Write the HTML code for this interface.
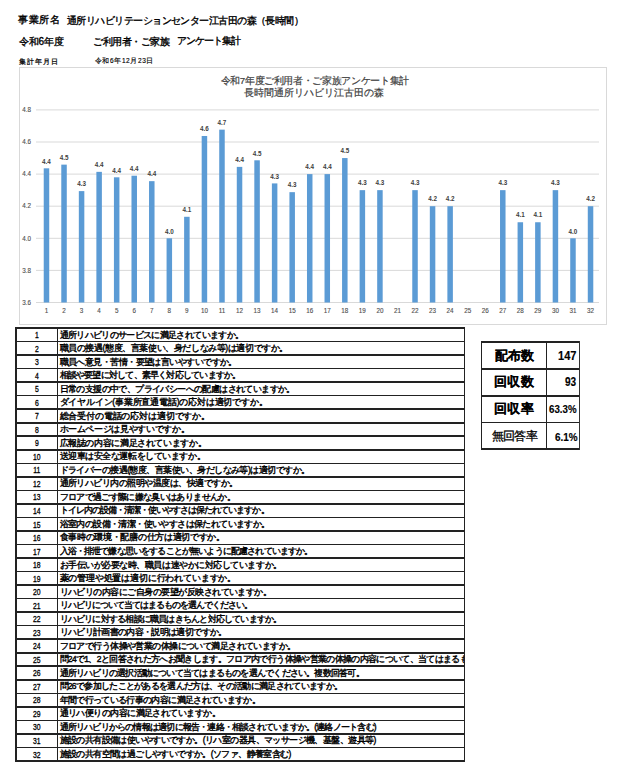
<!DOCTYPE html>
<html lang="ja"><head><meta charset="utf-8">
<style>
html,body{margin:0;padding:0;background:#fff;}
body{width:640px;height:777px;position:relative;overflow:hidden;font-family:"Liberation Sans",sans-serif;color:#000;}
.t{position:absolute;white-space:nowrap;line-height:1;}
svg{position:absolute;left:0;top:0;}
.ax{font-size:6.3px;fill:#505050;stroke:#505050;stroke-width:0.12px;font-family:"Liberation Sans",sans-serif;}
.dl{font-size:6.3px;fill:#404040;font-weight:bold;font-family:"Liberation Sans",sans-serif;}
.tt{font-size:10px;fill:#404040;stroke:#404040;stroke-width:0.2px;font-family:"Liberation Sans",sans-serif;}
#clip{position:absolute;left:0;top:0;width:463.5px;height:777px;overflow:hidden;}
.q{position:absolute;left:59.5px;font-size:8.5px;line-height:1;white-space:nowrap;-webkit-text-stroke:0.4px #000;font-weight:normal;}
.n{position:absolute;left:16px;width:41.5px;text-align:center;font-size:8.3px;line-height:1;-webkit-text-stroke:0.3px #000;transform:scaleX(0.82);transform-origin:21.4px 0;}
.hl{position:absolute;left:16px;width:449px;height:1.6px;background:#222;}
.vl{position:absolute;width:1.6px;background:#222;}
</style></head><body>
<div class="t" id="h1a" style="left:18.00px;top:15.45px;font-size:10.00px;letter-spacing:0.600px;font-weight:normal;-webkit-text-stroke:0.35px #000">事業所名</div><div class="t" id="h1b" style="left:67.00px;top:15.90px;font-size:10.00px;letter-spacing:-0.550px;font-weight:normal;-webkit-text-stroke:0.35px #000">通所リハビリテーションセンター江古田の森（長時間）</div><div class="t" id="h2a" style="left:18.90px;top:36.90px;font-size:10.00px;letter-spacing:-0.225px;font-weight:normal;-webkit-text-stroke:0.35px #000">令和6年度</div><div class="t" id="h2b" style="left:93.10px;top:36.90px;font-size:10.00px;letter-spacing:-0.500px;font-weight:normal;-webkit-text-stroke:0.35px #000">ご利用者・ご家族</div><div class="t" id="h2c" style="left:176.60px;top:36.45px;font-size:10.00px;letter-spacing:-0.950px;font-weight:normal;-webkit-text-stroke:0.35px #000">アンケート集計</div><div class="t" id="h3a" style="left:18.90px;top:57.90px;font-size:7.00px;letter-spacing:1.125px;font-weight:normal;-webkit-text-stroke:0.22px #000">集計年月日</div><div class="t" id="h3b" style="left:94.90px;top:57.80px;font-size:6.50px;letter-spacing:0.600px;-webkit-text-stroke:0.15px #000">令和6年12月23日</div>
<svg width="640" height="777" viewBox="0 0 640 777"><rect x="19.5" y="67.5" width="587" height="257" fill="#fff" stroke="#d9d9d9" stroke-width="1"/><line x1="36" x2="599" y1="302.50" y2="302.50" stroke="#d9d9d9" stroke-width="1"/><text x="31" y="304.70" text-anchor="end" class="ax">3.6</text><line x1="36" x2="599" y1="270.40" y2="270.40" stroke="#d9d9d9" stroke-width="1"/><text x="31" y="272.60" text-anchor="end" class="ax">3.8</text><line x1="36" x2="599" y1="238.30" y2="238.30" stroke="#d9d9d9" stroke-width="1"/><text x="31" y="240.50" text-anchor="end" class="ax">4.0</text><line x1="36" x2="599" y1="206.20" y2="206.20" stroke="#d9d9d9" stroke-width="1"/><text x="31" y="208.40" text-anchor="end" class="ax">4.2</text><line x1="36" x2="599" y1="174.10" y2="174.10" stroke="#d9d9d9" stroke-width="1"/><text x="31" y="176.30" text-anchor="end" class="ax">4.4</text><line x1="36" x2="599" y1="142.00" y2="142.00" stroke="#d9d9d9" stroke-width="1"/><text x="31" y="144.20" text-anchor="end" class="ax">4.6</text><line x1="36" x2="599" y1="109.90" y2="109.90" stroke="#d9d9d9" stroke-width="1"/><text x="31" y="112.10" text-anchor="end" class="ax">4.8</text><text x="46.48" y="313.3" text-anchor="middle" class="ax">1</text><rect x="43.73" y="168.32" width="5.5" height="134.18" fill="#5b9bd5"/><text x="46.48" y="163.52" text-anchor="middle" class="dl">4.4</text><text x="64.03" y="313.3" text-anchor="middle" class="ax">2</text><rect x="61.28" y="164.63" width="5.5" height="137.87" fill="#5b9bd5"/><text x="64.03" y="159.83" text-anchor="middle" class="dl">4.5</text><text x="81.58" y="313.3" text-anchor="middle" class="ax">3</text><rect x="78.83" y="191.11" width="5.5" height="111.39" fill="#5b9bd5"/><text x="81.58" y="186.31" text-anchor="middle" class="dl">4.3</text><text x="99.12" y="313.3" text-anchor="middle" class="ax">4</text><rect x="96.38" y="171.85" width="5.5" height="130.65" fill="#5b9bd5"/><text x="99.12" y="167.05" text-anchor="middle" class="dl">4.4</text><text x="116.68" y="313.3" text-anchor="middle" class="ax">5</text><rect x="113.93" y="177.31" width="5.5" height="125.19" fill="#5b9bd5"/><text x="116.68" y="172.51" text-anchor="middle" class="dl">4.4</text><text x="134.23" y="313.3" text-anchor="middle" class="ax">6</text><rect x="131.48" y="175.71" width="5.5" height="126.79" fill="#5b9bd5"/><text x="134.23" y="170.91" text-anchor="middle" class="dl">4.4</text><text x="151.78" y="313.3" text-anchor="middle" class="ax">7</text><rect x="149.03" y="181.16" width="5.5" height="121.34" fill="#5b9bd5"/><text x="151.78" y="176.36" text-anchor="middle" class="dl">4.4</text><text x="169.32" y="313.3" text-anchor="middle" class="ax">8</text><rect x="166.57" y="238.30" width="5.5" height="64.20" fill="#5b9bd5"/><text x="169.32" y="233.50" text-anchor="middle" class="dl">4.0</text><text x="186.88" y="313.3" text-anchor="middle" class="ax">9</text><rect x="184.12" y="216.79" width="5.5" height="85.71" fill="#5b9bd5"/><text x="186.88" y="211.99" text-anchor="middle" class="dl">4.1</text><text x="204.43" y="313.3" text-anchor="middle" class="ax">10</text><rect x="201.68" y="135.98" width="5.5" height="166.52" fill="#5b9bd5"/><text x="204.43" y="131.18" text-anchor="middle" class="dl">4.6</text><text x="221.98" y="313.3" text-anchor="middle" class="ax">11</text><rect x="219.23" y="129.64" width="5.5" height="172.86" fill="#5b9bd5"/><text x="221.98" y="124.84" text-anchor="middle" class="dl">4.7</text><text x="239.53" y="313.3" text-anchor="middle" class="ax">12</text><rect x="236.78" y="166.88" width="5.5" height="135.62" fill="#5b9bd5"/><text x="239.53" y="162.08" text-anchor="middle" class="dl">4.4</text><text x="257.07" y="313.3" text-anchor="middle" class="ax">13</text><rect x="254.32" y="160.30" width="5.5" height="142.20" fill="#5b9bd5"/><text x="257.07" y="155.50" text-anchor="middle" class="dl">4.5</text><text x="274.62" y="313.3" text-anchor="middle" class="ax">14</text><rect x="271.88" y="183.41" width="5.5" height="119.09" fill="#5b9bd5"/><text x="274.62" y="178.61" text-anchor="middle" class="dl">4.3</text><text x="292.18" y="313.3" text-anchor="middle" class="ax">15</text><rect x="289.43" y="192.16" width="5.5" height="110.34" fill="#5b9bd5"/><text x="292.18" y="187.36" text-anchor="middle" class="dl">4.3</text><text x="309.73" y="313.3" text-anchor="middle" class="ax">16</text><rect x="306.98" y="174.10" width="5.5" height="128.40" fill="#5b9bd5"/><text x="309.73" y="169.30" text-anchor="middle" class="dl">4.4</text><text x="327.27" y="313.3" text-anchor="middle" class="ax">17</text><rect x="324.52" y="174.10" width="5.5" height="128.40" fill="#5b9bd5"/><text x="327.27" y="169.30" text-anchor="middle" class="dl">4.4</text><text x="344.82" y="313.3" text-anchor="middle" class="ax">18</text><rect x="342.07" y="158.05" width="5.5" height="144.45" fill="#5b9bd5"/><text x="344.82" y="153.25" text-anchor="middle" class="dl">4.5</text><text x="362.38" y="313.3" text-anchor="middle" class="ax">19</text><rect x="359.62" y="190.15" width="5.5" height="112.35" fill="#5b9bd5"/><text x="362.38" y="185.35" text-anchor="middle" class="dl">4.3</text><text x="379.93" y="313.3" text-anchor="middle" class="ax">20</text><rect x="377.18" y="190.15" width="5.5" height="112.35" fill="#5b9bd5"/><text x="379.93" y="185.35" text-anchor="middle" class="dl">4.3</text><text x="397.48" y="313.3" text-anchor="middle" class="ax">21</text><text x="415.02" y="313.3" text-anchor="middle" class="ax">22</text><rect x="412.27" y="190.15" width="5.5" height="112.35" fill="#5b9bd5"/><text x="415.02" y="185.35" text-anchor="middle" class="dl">4.3</text><text x="432.57" y="313.3" text-anchor="middle" class="ax">23</text><rect x="429.82" y="206.20" width="5.5" height="96.30" fill="#5b9bd5"/><text x="432.57" y="201.40" text-anchor="middle" class="dl">4.2</text><text x="450.12" y="313.3" text-anchor="middle" class="ax">24</text><rect x="447.38" y="206.20" width="5.5" height="96.30" fill="#5b9bd5"/><text x="450.12" y="201.40" text-anchor="middle" class="dl">4.2</text><text x="467.68" y="313.3" text-anchor="middle" class="ax">25</text><text x="485.23" y="313.3" text-anchor="middle" class="ax">26</text><text x="502.78" y="313.3" text-anchor="middle" class="ax">27</text><rect x="500.03" y="190.15" width="5.5" height="112.35" fill="#5b9bd5"/><text x="502.78" y="185.35" text-anchor="middle" class="dl">4.3</text><text x="520.33" y="313.3" text-anchor="middle" class="ax">28</text><rect x="517.58" y="222.25" width="5.5" height="80.25" fill="#5b9bd5"/><text x="520.33" y="217.45" text-anchor="middle" class="dl">4.1</text><text x="537.88" y="313.3" text-anchor="middle" class="ax">29</text><rect x="535.12" y="222.25" width="5.5" height="80.25" fill="#5b9bd5"/><text x="537.88" y="217.45" text-anchor="middle" class="dl">4.1</text><text x="555.43" y="313.3" text-anchor="middle" class="ax">30</text><rect x="552.68" y="190.15" width="5.5" height="112.35" fill="#5b9bd5"/><text x="555.43" y="185.35" text-anchor="middle" class="dl">4.3</text><text x="572.98" y="313.3" text-anchor="middle" class="ax">31</text><rect x="570.23" y="238.30" width="5.5" height="64.20" fill="#5b9bd5"/><text x="572.98" y="233.50" text-anchor="middle" class="dl">4.0</text><text x="590.53" y="313.3" text-anchor="middle" class="ax">32</text><rect x="587.78" y="206.20" width="5.5" height="96.30" fill="#5b9bd5"/><text x="590.53" y="201.40" text-anchor="middle" class="dl">4.2</text><text x="314.7" y="83.5" text-anchor="middle" class="tt" style="font-size:9.7px;letter-spacing:-0.36px">令和7年度ご利用者・ご家族アンケート集計</text><text x="313.5" y="96.2" text-anchor="middle" class="tt" style="font-size:9.85px">長時間通所リハビリ江古田の森</text></svg>
<div id="clip"><div class="q" id="r1" style="top:330.50px;letter-spacing:-0.643px">通所リハビリのサービスに満足されていますか。</div><div class="n" style="top:331.10px">1</div><div class="q" id="r2" style="top:344.03px;letter-spacing:-0.400px">職員の接遇(態度、言葉使い、身だしなみ等)は適切ですか。</div><div class="n" style="top:344.63px">2</div><div class="q" id="r3" style="top:357.56px;letter-spacing:-0.555px">職員へ意見・苦情・要望は言いやすいですか。</div><div class="n" style="top:358.16px">3</div><div class="q" id="r4" style="top:371.09px;letter-spacing:-0.771px">相談や要望に対して、素早く対応していますか。</div><div class="n" style="top:371.69px">4</div><div class="q" id="r5" style="top:384.62px;letter-spacing:-0.600px">日常の支援の中で、プライバシーへの配慮はされていますか。</div><div class="n" style="top:385.22px">5</div><div class="q" id="r6" style="top:398.15px;letter-spacing:-0.188px">ダイヤルイン(事業所直通電話)の応対は適切ですか。</div><div class="n" style="top:398.75px">6</div><div class="q" id="r7" style="top:411.68px;letter-spacing:-0.150px">総合受付の電話の応対は適切ですか。</div><div class="n" style="top:412.28px">7</div><div class="q" id="r8" style="top:425.21px;letter-spacing:-0.343px">ホームページは見やすいですか。</div><div class="n" style="top:425.81px">8</div><div class="q" id="r9" style="top:438.74px;letter-spacing:-0.375px">広報誌の内容に満足されていますか。</div><div class="n" style="top:439.34px">9</div><div class="q" id="r10" style="top:452.27px;letter-spacing:-0.431px">送迎車は安全な運転をしていますか。</div><div class="n" style="top:452.87px">10</div><div class="q" id="r11" style="top:465.80px;letter-spacing:-0.540px">ドライバーの接遇(態度、言葉使い、身だしなみ等)は適切ですか。</div><div class="n" style="top:466.40px">11</div><div class="q" id="r12" style="top:479.33px;letter-spacing:-0.510px">通所リハビリ内の照明や温度は、快適ですか。</div><div class="n" style="top:479.93px">12</div><div class="q" id="r13" style="top:492.86px;letter-spacing:-0.645px">フロアで過ごす際に嫌な臭いはありませんか。</div><div class="n" style="top:493.46px">13</div><div class="q" id="r14" style="top:506.39px;letter-spacing:-0.960px">トイレ内の設備・清潔・使いやすさは保たれていますか。</div><div class="n" style="top:506.99px">14</div><div class="q" id="r15" style="top:519.92px;letter-spacing:-0.600px">浴室内の設備・清潔・使いやすさは保たれていますか。</div><div class="n" style="top:520.52px">15</div><div class="q" id="r16" style="top:533.45px;letter-spacing:-0.300px">食事時の環境・配膳の仕方は適切ですか。</div><div class="n" style="top:534.05px">16</div><div class="q" id="r17" style="top:546.98px;letter-spacing:-0.840px">入浴・排泄で嫌な思いをすることが無いように配慮されていますか。</div><div class="n" style="top:547.58px">17</div><div class="q" id="r18" style="top:560.51px;letter-spacing:-0.456px">お手伝いが必要な時、職員は速やかに対応していますか。</div><div class="n" style="top:561.11px">18</div><div class="q" id="r19" style="top:574.04px;letter-spacing:-0.174px">薬の管理や処置は適切に行われていますか。</div><div class="n" style="top:574.64px">19</div><div class="q" id="r20" style="top:587.57px;letter-spacing:-0.525px">リハビリの内容にご自身の要望が反映されていますか。</div><div class="n" style="top:588.17px">20</div><div class="q" id="r21" style="top:601.10px;letter-spacing:-0.991px">リハビリについて当てはまるものを選んでください。</div><div class="n" style="top:601.70px">21</div><div class="q" id="r22" style="top:614.63px;letter-spacing:-0.773px">リハビリに対する相談に職員はきちんと対応していますか。</div><div class="n" style="top:615.23px">22</div><div class="q" id="r23" style="top:628.16px;letter-spacing:-0.647px">リハビリ計画書の内容・説明は適切ですか。</div><div class="n" style="top:628.76px">23</div><div class="q" id="r24" style="top:641.69px;letter-spacing:-0.567px">フロアで行う体操や営業の体操について満足されていますか。</div><div class="n" style="top:642.29px">24</div><div class="q" id="r25" style="top:655.22px;letter-spacing:-0.652px">問24で1、2と回答された方へお聞きします。フロア内で行う体操や営業の体操の内容について、当てはまるものを選んでください。</div><div class="n" style="top:655.82px">25</div><div class="q" id="r26" style="top:668.75px;letter-spacing:-0.775px">通所リハビリの選択活動について当てはまるものを選んでください。複数回答可。</div><div class="n" style="top:669.35px">26</div><div class="q" id="r27" style="top:682.28px;letter-spacing:-0.679px">問26で参加したことがあるを選んだ方は、その活動に満足されていますか。</div><div class="n" style="top:682.88px">27</div><div class="q" id="r28" style="top:695.81px;letter-spacing:-0.639px">年間で行っている行事の内容に満足されていますか。</div><div class="n" style="top:696.41px">28</div><div class="q" id="r29" style="top:709.34px;letter-spacing:-0.550px">通リハ便りの内容に満足されていますか。</div><div class="n" style="top:709.94px">29</div><div class="q" id="r30" style="top:722.87px;letter-spacing:-0.785px">通所リハビリからの情報は適切に報告・連絡・相談されていますか。(連絡ノート含む)</div><div class="n" style="top:723.47px">30</div><div class="q" id="r31" style="top:736.40px;letter-spacing:-0.576px">施設の共有設備は使いやすいですか。(リハ室の器具、マッサージ機、基盤、遊具等)</div><div class="n" style="top:737.00px">31</div><div class="q" id="r32" style="top:749.93px;letter-spacing:-0.600px">施設の共有空間は過ごしやすいですか。(ソファ、静養室含む)</div><div class="n" style="top:750.53px">32</div></div>
<div class="hl" style="top:327.20px"></div><div class="hl" style="top:340.73px"></div><div class="hl" style="top:354.26px"></div><div class="hl" style="top:367.79px"></div><div class="hl" style="top:381.32px"></div><div class="hl" style="top:394.85px"></div><div class="hl" style="top:408.38px"></div><div class="hl" style="top:421.91px"></div><div class="hl" style="top:435.44px"></div><div class="hl" style="top:448.97px"></div><div class="hl" style="top:462.50px"></div><div class="hl" style="top:476.03px"></div><div class="hl" style="top:489.56px"></div><div class="hl" style="top:503.09px"></div><div class="hl" style="top:516.62px"></div><div class="hl" style="top:530.15px"></div><div class="hl" style="top:543.68px"></div><div class="hl" style="top:557.21px"></div><div class="hl" style="top:570.74px"></div><div class="hl" style="top:584.27px"></div><div class="hl" style="top:597.80px"></div><div class="hl" style="top:611.33px"></div><div class="hl" style="top:624.86px"></div><div class="hl" style="top:638.39px"></div><div class="hl" style="top:651.92px"></div><div class="hl" style="top:665.45px"></div><div class="hl" style="top:678.98px"></div><div class="hl" style="top:692.51px"></div><div class="hl" style="top:706.04px"></div><div class="hl" style="top:719.57px"></div><div class="hl" style="top:733.10px"></div><div class="hl" style="top:746.63px"></div><div class="hl" style="top:760.16px"></div><div class="vl" style="left:15.30px;top:327.2px;height:434.6px"></div><div class="vl" style="left:56.70px;top:327.2px;height:434.6px"></div><div class="vl" style="left:463.80px;top:327.2px;height:434.6px"></div><div class="hl" style="left:481px;width:98.5px;top:341.40px;height:1.4px"></div><div class="hl" style="left:481px;width:98.5px;top:368.40px;height:1.4px"></div><div class="hl" style="left:481px;width:98.5px;top:395.20px;height:1.4px"></div><div class="hl" style="left:481px;width:98.5px;top:421.90px;height:1.4px"></div><div class="hl" style="left:481px;width:98.5px;top:448.40px;height:1.4px"></div><div class="vl" style="left:481.00px;top:341.3px;height:108.5px;width:1.2px"></div><div class="vl" style="left:545.65px;top:341.3px;height:108.5px;width:1.2px"></div><div class="vl" style="left:578.9px;top:341.3px;height:108.3px;width:1.1px;background:#333"></div>
<div class="t" id="s1" style="left:494.70px;top:349.00px;font-size:13.00px;letter-spacing:-0.000px;font-weight:bold;-webkit-text-stroke:0.1px #000">配布数</div><div class="t" id="s2" style="left:493.80px;top:375.10px;font-size:13.00px;letter-spacing:0.450px;font-weight:bold;-webkit-text-stroke:0.1px #000">回収数</div><div class="t" id="s3" style="left:493.80px;top:402.10px;font-size:13.00px;letter-spacing:0.450px;font-weight:bold;-webkit-text-stroke:0.1px #000">回収率</div><div class="t" id="s4" style="left:491.50px;top:430.90px;font-size:11.50px;letter-spacing:-0.600px;-webkit-text-stroke:0.3px #000">無回答率</div><div class="t" id="v1" style="left:557.50px;top:349.90px;font-size:12.00px;letter-spacing:0.000px;transform:scaleX(0.9199);transform-origin:0 0;font-weight:bold;-webkit-text-stroke:0.15px #000">147</div><div class="t" id="v2" style="left:564.80px;top:376.00px;font-size:12.00px;letter-spacing:0.000px;transform:scaleX(0.8381);transform-origin:0 0;font-weight:bold;-webkit-text-stroke:0.15px #000">93</div><div class="t" id="v3" style="left:548.70px;top:403.90px;font-size:11.30px;letter-spacing:0.000px;transform:scaleX(0.8596);transform-origin:0 0;font-weight:bold;-webkit-text-stroke:0.15px #000">63.3%</div><div class="t" id="v4" style="left:554.65px;top:431.80px;font-size:11.50px;letter-spacing:0.000px;transform:scaleX(0.8629);transform-origin:0 0;font-weight:bold;-webkit-text-stroke:0.15px #000">6.1%</div>
</body></html>
